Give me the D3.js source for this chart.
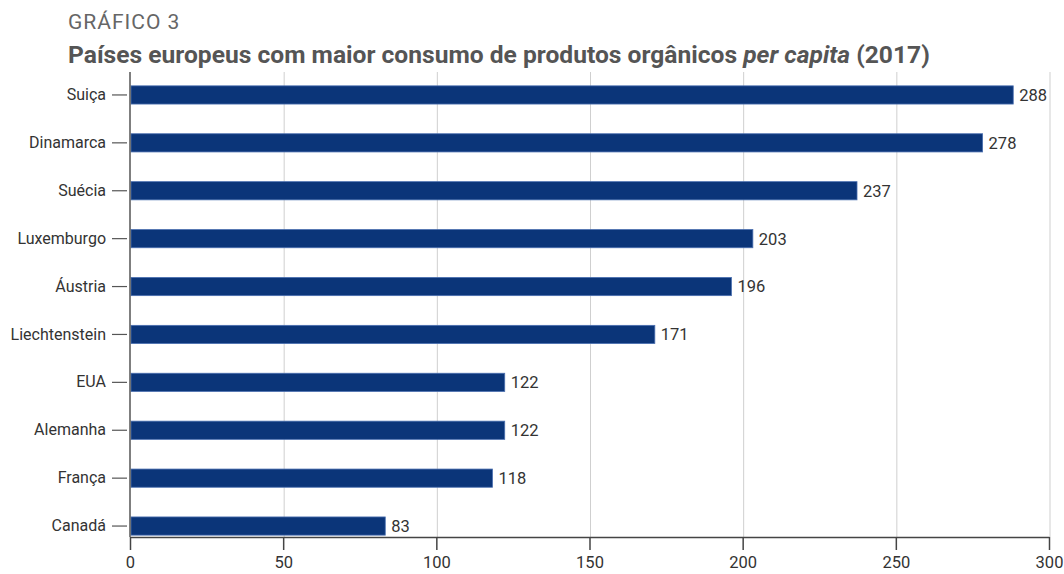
<!DOCTYPE html>
<html>
<head>
<meta charset="utf-8">
<script src="https://cdn.jsdelivr.net/npm/d3@7"></script>
<style>
  body { margin: 0; background: #fff; }
  svg { display: block; }
  text { font-family: Roboto, "Open Sans", sans-serif; }
</style>
</head>
<body>
<div id="chart"></div>
<script>
const countries = ['Suiça', 'Dinamarca', 'Suécia', 'Luxemburgo', 'Áustria', 'Liechtenstein', 'EUA', 'Alemanha', 'França', 'Canadá'];
const consumption = [288, 278, 237, 203, 196, 171, 122, 122, 118, 83];
const xTicks = [0, 50, 100, 150, 200, 250, 300];

const WIDTH = 1064;
const HEIGHT = 574;
const PLOT_LEFT = 130;
const PLOT_RIGHT = 1049;
const PLOT_TOP = 72;
const PLOT_BOTTOM = 537;
const FONT = 'Roboto, "Open Sans", sans-serif';

const data = countries.map((c, i) => ({ name: c, value: consumption[i] }));

const svg = d3.select('#chart')
	.append('svg')
		.attr('width', WIDTH)
		.attr('height', HEIGHT);

svg.append('text')
	.attr('x', 68)
	.attr('y', 29)
	.attr('fill', '#666')
	.attr('font-size', 21)
	.attr('font-family', '"Open Sans", sans-serif')
	.attr('letter-spacing', 1)
	.text('GRÁFICO 3');

const title = svg.append('text')
	.attr('x', 68)
	.attr('y', 63)
	.attr('fill', '#555')
	.attr('font-size', 24.6)
	.attr('font-weight', 'bold');
title.append('tspan').text('Países europeus com maior consumo de produtos orgânicos ');
title.append('tspan').attr('font-style', 'italic').text('per capita');
title.append('tspan').text(' (2017)');

const x = d3.scaleLinear()
	.domain([0, 300])
	.range([PLOT_LEFT, PLOT_RIGHT]);

const y = d3.scaleBand()
	.domain(countries)
	.range([71, 550])
	.paddingInner(0.62)
	.paddingOuter(0.31);

// gridlines
svg.append('g')
	.selectAll('line')
	.data(xTicks.filter(d => d > 0))
	.enter()
	.append('line')
		.attr('x1', d => x(d) + 1)
		.attr('x2', d => x(d) + 1)
		.attr('y1', PLOT_TOP)
		.attr('y2', PLOT_BOTTOM)
		.attr('stroke', '#cfcfcf')
		.attr('stroke-width', 1);

// bars
svg.append('g')
	.selectAll('rect')
	.data(data)
	.enter()
	.append('rect')
		.attr('x', x(0) + 1)
		.attr('y', d => y(d.name))
		.attr('width', d => x(d.value) - x(0))
		.attr('height', y.bandwidth())
		.attr('fill', '#0b3579')
		.attr('stroke', '#4a6fb0')
		.attr('stroke-width', 0.8);

// value labels
svg.append('g')
	.selectAll('text')
	.data(data)
	.enter()
	.append('text')
		.attr('x', d => x(d.value) + 7)
		.attr('y', d => y(d.name) + y.bandwidth() / 2)
		.attr('dy', '0.36em')
		.attr('fill', '#333')
		.attr('font-size', 16.5)
		.text(d => d.value);

// bottom axis
const xAxisCall = d3.axisBottom(x)
	.tickValues(xTicks)
	.tickSizeInner(13)
	.tickSizeOuter(0)
	.tickPadding(6);

const xAxis = svg.append('g')
	.attr('transform', `translate(0, ${PLOT_BOTTOM})`)
	.call(xAxisCall);
xAxis.select('.domain').attr('stroke', '#444').attr('stroke-width', 1.5);
xAxis.selectAll('.tick line').attr('stroke', '#444').attr('stroke-width', 1.5);
xAxis.selectAll('.tick text')
	.attr('fill', '#333')
	.attr('font-size', 16.5)
	.attr('font-family', FONT);

// left axis
const yAxisCall = d3.axisLeft(y)
	.tickSizeInner(18)
	.tickSizeOuter(0)
	.tickPadding(6);

const yAxis = svg.append('g')
	.attr('transform', `translate(${PLOT_LEFT}, 0)`)
	.call(yAxisCall);
yAxis.select('.domain').remove();
yAxis.selectAll('.tick line')
	.attr('x1', -3)
	.attr('stroke', '#555')
	.attr('stroke-width', 1.2);
yAxis.selectAll('.tick text')
	.attr('fill', '#333')
	.attr('font-size', 16)
	.attr('font-family', FONT);

svg.append('line')
	.attr('x1', PLOT_LEFT)
	.attr('x2', PLOT_LEFT)
	.attr('y1', PLOT_TOP)
	.attr('y2', PLOT_BOTTOM)
	.attr('stroke', '#555')
	.attr('stroke-width', 1.5);
</script>
</body>
</html>
